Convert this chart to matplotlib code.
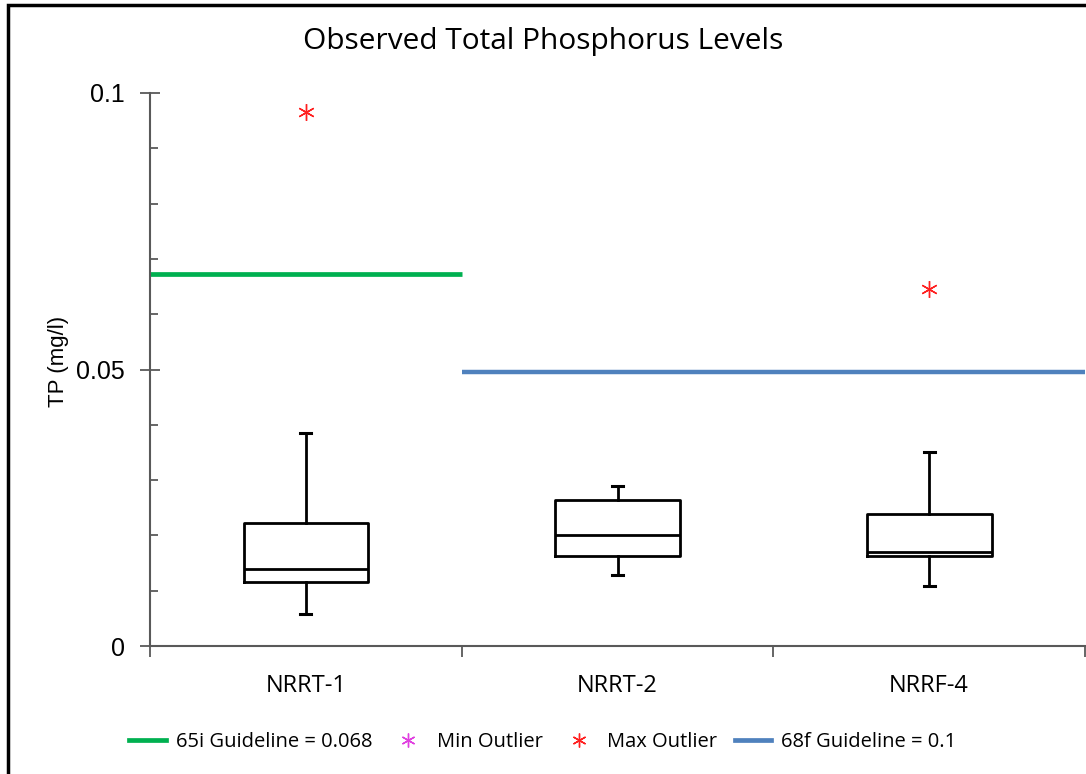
import matplotlib.pyplot as plt
from matplotlib.lines import Line2D
from matplotlib.patches import Rectangle

# values (mg/l)
sites = ['NRRT-1', 'NRRT-2', 'NRRF-4']
whisker_low = [0.0058, 0.0128, 0.0109]
q1 = [0.0116, 0.0162, 0.0163]
median = [0.0139, 0.0200, 0.0170]
q3 = [0.0223, 0.0264, 0.0238]
whisker_high = [0.0385, 0.0290, 0.0351]
max_outliers = [[0.0965], [], [0.0645]]
min_outliers = [[], [], []]

guide_65i = 0.0673
guide_68f = 0.0496
guide_65i_label = '65i Guideline = 0.068'
guide_68f_label = '68f Guideline = 0.1'

green = '#00B050'
blue = '#4F81BD'
axis_gray = '#595959'
label_font = 'Open Sans'

fig = plt.figure(figsize=(10.86, 7.74), dpi=100)
ax = fig.add_axes([150 / 1086, 1 - 646 / 774, 935 / 1086, (646 - 93) / 774])

stats = []
for i in range(len(sites)):
    stats.append({'label': sites[i], 'whislo': whisker_low[i], 'q1': q1[i],
                  'med': median[i], 'q3': q3[i], 'whishi': whisker_high[i],
                  'fliers': []})

ax.bxp(stats, positions=range(len(sites)), widths=0.4, showfliers=False,
       boxprops=dict(color='black', linewidth=2),
       medianprops=dict(color='black', linewidth=2),
       whiskerprops=dict(color='black', linewidth=2),
       capprops=dict(color='black', linewidth=2.2), capwidths=0.035)

# guideline lines
ax.plot([-0.5, 0.5], [guide_65i, guide_65i], color=green, linewidth=3.4,
        solid_capstyle='butt', zorder=1)
ax.plot([0.5, 2.5], [guide_68f, guide_68f], color=blue, linewidth=3.2,
        solid_capstyle='butt', zorder=1)

# outliers
for i in range(len(sites)):
    for v in max_outliers[i]:
        ax.plot(i, v, marker=(6, 2, 0), color='#FF2020', markersize=12,
                markeredgewidth=1, linestyle='none')
    for v in min_outliers[i]:
        ax.plot(i, v, marker=(6, 2, 0), color='#E040E0', markersize=12,
                markeredgewidth=1, linestyle='none')

ax.set_xlim(-0.5, 2.5)
ax.set_ylim(0, 0.1)
ax.set_yticks([0, 0.05, 0.1])
ax.set_yticklabels(['0', '0.05', '0.1'], fontsize=18, family='Liberation Sans')
ax.set_yticks([0.01 * k for k in range(11)], minor=True)
ax.tick_params(axis='y', which='major', direction='inout', length=14,
               width=1.3, color=axis_gray, pad=11)
ax.tick_params(axis='y', which='minor', direction='in', length=6,
               width=1.3, color=axis_gray)

ax.set_xticks([-0.5, 0.5, 1.5, 2.5])
ax.set_xticklabels([])
ax.set_xticks([0, 1, 2], minor=True)
ax.set_xticklabels(sites, minor=True, fontsize=17, family=label_font)
ax.tick_params(axis='x', which='minor', length=0, pad=20)
ax.tick_params(axis='x', which='major', direction='out', length=8,
               width=1.3, color=axis_gray)

for s in ['top', 'right']:
    ax.spines[s].set_visible(False)
for s in ['left', 'bottom']:
    ax.spines[s].set_color(axis_gray)
    ax.spines[s].set_linewidth(1.5)

ax.set_ylabel('TP (mg/l)', fontsize=16, family='Liberation Sans')
ax.yaxis.set_label_coords(-0.087, 0.515)

fig.text(0.5, 1 - 42 / 774, 'Observed Total Phosphorus Levels', ha='center',
         va='center', fontsize=21.5, family=label_font)

handles = [
    Line2D([], [], color=green, linewidth=3.4),
    Line2D([], [], marker=(6, 2, 0), color='#E040E0', linestyle='none',
           markersize=10, markeredgewidth=1),
    Line2D([], [], marker=(6, 2, 0), color='#FF2020', linestyle='none',
           markersize=10, markeredgewidth=1),
    Line2D([], [], color=blue, linewidth=3.4),
]
labels = [guide_65i_label, 'Min Outlier', 'Max Outlier', guide_68f_label]
fig.legend(handles, labels, loc='center', bbox_to_anchor=(0.5, 1 - 742 / 774),
           ncol=4, frameon=False, prop={'family': label_font, 'size': 14.5},
           handlelength=1.8, handletextpad=0.5, columnspacing=0.9)

# outer frame of the chart
fig.patches.append(Rectangle((8 / 1086, -0.1), 1.2, 1 - 5 / 774 + 0.1,
                             transform=fig.transFigure, fill=False,
                             edgecolor='black', linewidth=2.5))

fig.savefig('out.png', dpi=100)
